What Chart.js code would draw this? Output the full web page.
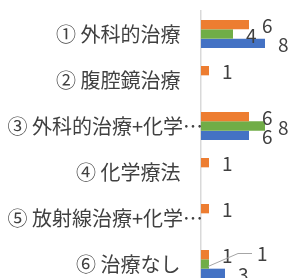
<!DOCTYPE html>
<html><head><meta charset="utf-8">
<script src="https://cdn.jsdelivr.net/npm/chart.js@4/dist/chart.umd.min.js"></script>
<style>
html,body{margin:0;padding:0;overflow:hidden;background:#fff;width:292px;height:278px}
canvas{display:block}
</style></head><body>
<canvas id="c" width="292" height="290"></canvas>
<script>
const categories = ['① 外科的治療     ', '② 腹腔鏡治療     ', '③ 外科的治療+化学…', '④ 化学療法     ', '⑤ 放射線治療+化学…', '⑥ 治療なし     '];
const seriesNames = ['系列1', '系列2', '系列3'];
const orangeValues = [6, 1, 6, 1, 1, 1];
const greenValues = [4, null, 8, null, null, 1];
const blueValues = [8, null, 6, null, null, 3];
const xRange = [0, 10];

const valueLabels = {
  id: 'valueLabels',
  afterDatasetsDraw(chart, args, opts) {
    const ctx = chart.ctx;
    ctx.save();
    ctx.font = opts.font;
    ctx.fillStyle = opts.color;
    ctx.textAlign = 'left';
    ctx.textBaseline = 'middle';
    chart.data.datasets.forEach((ds, di) => {
      const meta = chart.getDatasetMeta(di);
      meta.data.forEach((bar, i) => {
        const v = ds.data[i];
        if (v == null) return;
        let x = bar.x + opts.offsetX;
        let y = bar.y + opts.offsetY;
        const mv = opts.moved.find(m => m.dataset === di && m.index === i);
        if (mv) {
          x += mv.dx; y += mv.dy;
          ctx.save();
          ctx.strokeStyle = opts.leaderColor;
          ctx.lineWidth = 1;
          ctx.beginPath();
          ctx.moveTo(bar.x - 1, bar.y + 2.5);
          ctx.lineTo(x - 19, y - 0.5);
          ctx.lineTo(x - 5, y - 0.5);
          ctx.stroke();
          ctx.restore();
        }
        ctx.fillText(String(v), x, y);
      });
    });
    ctx.restore();
  }
};

new Chart(document.getElementById('c'), {
  type: 'bar',
  data: {
    labels: categories,
    datasets: [
      { label: seriesNames[0], data: orangeValues, backgroundColor: '#ED7D31' },
      { label: seriesNames[1], data: greenValues, backgroundColor: '#70AD47' },
      { label: seriesNames[2], data: blueValues, backgroundColor: '#4472C4' }
    ]
  },
  options: {
    indexAxis: 'y',
    responsive: false,
    animation: false,
    layout: { padding: { top: 11, bottom: 3, right: 11, left: 0 } },
    datasets: { bar: { categoryPercentage: 0.61, barPercentage: 1 } },
    plugins: {
      legend: { display: false },
      tooltip: { enabled: false },
      valueLabels: {
        font: '19px "Noto Sans CJK JP"',
        color: '#404040',
        offsetX: 13,
        offsetY: 1.5,
        leaderColor: '#a6a6a6',
        moved: [{ dataset: 1, index: 5, dx: 35, dy: -11.5 }]
      }
    },
    scales: {
      x: { display: false, min: xRange[0], max: xRange[1] },
      y: {
        afterFit(s) { s.width = 201; s.paddingTop = 0; s.paddingBottom = 0; },
        grid: { display: false, drawTicks: false },
        border: { display: true, color: '#d9d9d9', width: 1.5 },
        ticks: { padding: -2, color: '#404040', font: { family: '"Noto Sans CJK JP"', size: 20 } }
      }
    }
  },
  plugins: [valueLabels]
});
</script>
</body></html>
